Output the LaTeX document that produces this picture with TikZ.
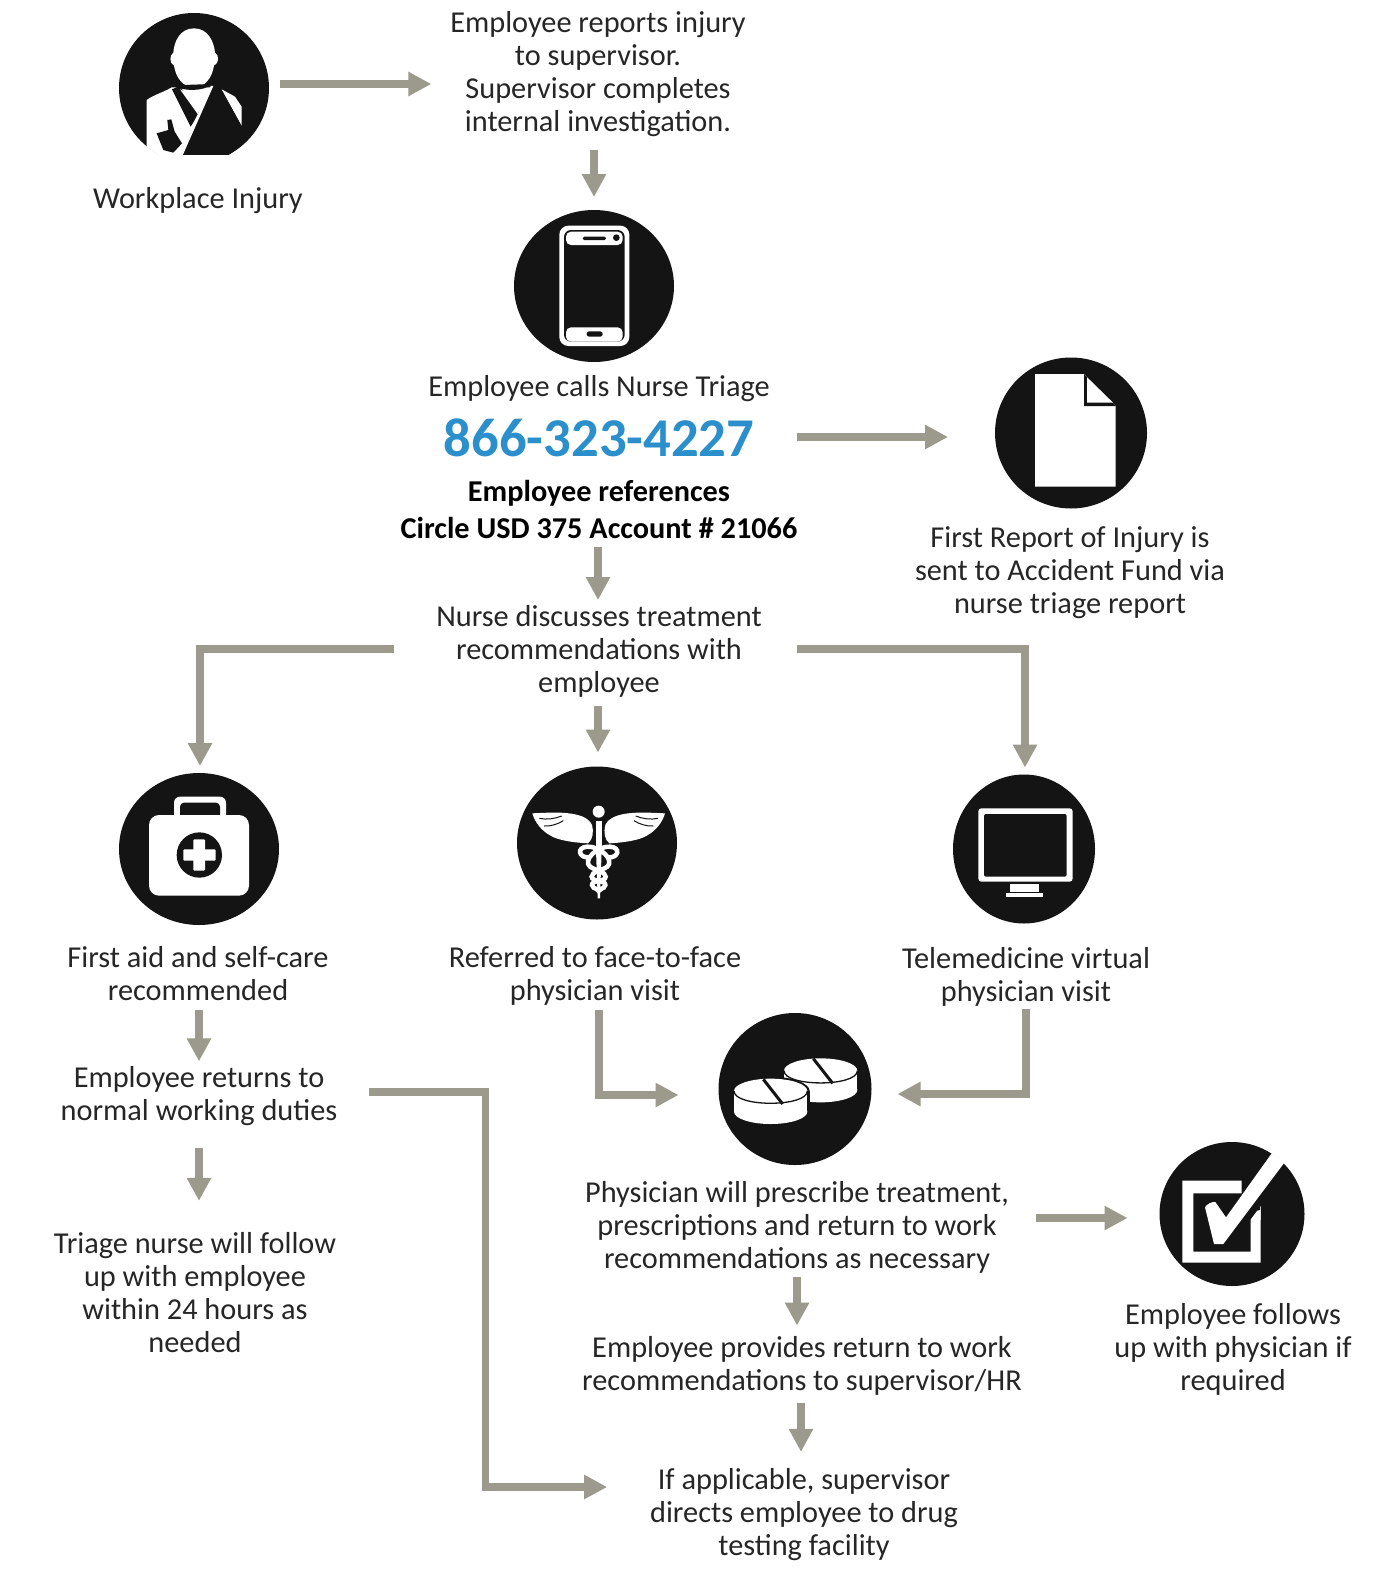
\documentclass[tikz,border=0pt]{standalone}
\usepackage{fontspec}
\setmainfont{Carlito}
\usetikzlibrary{arrows.meta,shapes.geometric,calc}
\newlength\pxu \setlength\pxu{.75pt}
\definecolor{arrowgrey}{HTML}{9B9A8C}
\definecolor{phoneblue}{HTML}{2B8FCB}
\definecolor{inkblack}{HTML}{141414}
\definecolor{textblack}{HTML}{262626}
\tikzset{
  disc/.style={ellipse,fill=inkblack,draw=none,inner sep=0pt,outer sep=0pt},
  label/.style={inner sep=0pt,outer sep=0pt,align=center,text=textblack,font=\fontsize{22.75}{24.75}\selectfont},
  boldlabel/.style={label,text=black,font=\fontsize{22.7}{27.75}\selectfont\bfseries},
  arr/.style={draw=arrowgrey,line width=5.6pt,-{Triangle[length=17.25pt,width=17.25pt]}},
  wt/.style={fill=white,draw=none},
  bk/.style={fill=inkblack,draw=none},
  zoomed/.style={shift={#1},scale=1/3},
}
\begin{document}
\begin{tikzpicture}[x=.75pt,y=-.75pt]
\useasboundingbox (0,0) rectangle (1382,1570);
\fill[white] (0,0) rectangle (1382,1570);

% discs
\node[disc,minimum width=150\pxu,minimum height=150\pxu] (injury) at (194,88) {};
\node[disc,minimum width=160\pxu,minimum height=152\pxu] (phone) at (594,286) {};
\node[disc,minimum width=152\pxu,minimum height=151\pxu] (doc) at (1071,433) {};
\node[disc,minimum width=160\pxu,minimum height=152\pxu] (aid) at (199,849) {};
\node[disc,minimum width=160\pxu,minimum height=153\pxu] (cad) at (597,843) {};
\node[disc,minimum width=142\pxu,minimum height=149\pxu] (mon) at (1024,849) {};
\node[disc,minimum width=153\pxu,minimum height=152\pxu] (pills) at (795,1089) {};
\node[disc,minimum width=145\pxu,minimum height=144\pxu] (check) at (1232,1214) {};

% injured person icon
\begin{scope}[zoomed={(100,0)}]
  \begin{scope}
    \clip (282,264) circle (226);
    \path[wt] (140,470) -- (140,300) .. controls (160,285) and (195,275) .. (215,262) -- (350,262) -- (300,470) -- cycle;
    \path[wt] (365,268) -- (405,290) -- (425,320) -- (425,378) -- cycle;
  \end{scope}
  \path[wt] (60,466) rectangle (520,510);
  \path[wt] (282,85) .. controls (240,85) and (222,125) .. (220,158) .. controls (208,165) and (208,190) .. (222,197) .. controls (228,235) and (250,262) .. (282,262) .. controls (314,262) and (336,235) .. (342,197) .. controls (358,190) and (358,165) .. (345,158) .. controls (342,125) and (324,85) .. (282,85) -- cycle;
  \path[bk] (222,256) .. controls (245,275) and (315,275) .. (335,252) -- (332,262) -- (240,465) -- (385,465) .. controls (420,445) and (470,400) .. (480,340) -- (425,378) -- (363,268) -- (335,252) -- cycle;
  \path[bk] (216,268) -- (238,258) -- (300,335) -- (272,380) -- cycle;
  \path[wt] (240,268) .. controls (265,282) and (305,282) .. (328,264) -- (293,342) -- cycle;
  \path[wt] (332,258) -- (340,258) -- (248,466) -- (236,466) -- cycle;
  \path[bk] (170,400) -- (205,390) -- (202,360) -- (214,358) -- (224,395) -- (246,430) -- (220,458) -- (190,450) -- cycle;
\end{scope}

% phone icon
\begin{scope}[zoomed={(500,200)}]
  \path[wt,rounded corners=9\pxu] (178,77) rectangle (388,438);
  \path[bk,rounded corners=7\pxu] (192,90) rectangle (374,425);
  \path[wt,rounded corners=5\pxu] (198,95) rectangle (368,135);
  \path[wt,rounded corners=5\pxu] (198,382) rectangle (368,425);
  \path[bk,rounded corners=1.5\pxu] (248,110) rectangle (318,120);
  \path[bk] (349,113) circle (10);
  \path[bk,rounded corners=2.5\pxu] (260,394) rectangle (308,410);
\end{scope}

% document icon
\begin{scope}[zoomed={(985,350)}]
  \path[wt] (150,72) -- (297,72) -- (392,168) -- (392,410) -- (150,410) -- cycle;
  \path[bk] (297,72) -- (392,168) -- (297,168) -- cycle;
  \path[wt] (306,82) -- (384,158) -- (306,158) -- cycle;
\end{scope}

% first aid icon
\begin{scope}[zoomed={(100,760)}]
  \path[wt,rounded corners=6\pxu] (222,110) rectangle (378,190);
  \path[bk,rounded corners=4\pxu] (240,128) rectangle (360,180);
  \path[wt,rounded corners=10\pxu] (147,165) rectangle (447,407);
  \path[bk] (298,285) circle (68);
  \path[wt,rounded corners=1\pxu] (280,238) rectangle (315,332);
  \path[wt,rounded corners=1\pxu] (250,268) rectangle (347,302);
\end{scope}

% caduceus icon
\begin{scope}[zoomed={(500,750)}]
  \path[wt] (97,190) .. controls (150,188) and (255,178) .. (276,225) .. controls (282,245) and (278,270) .. (264,280) .. controls (225,278) and (175,272) .. (150,256) .. controls (125,242) and (105,218) .. (97,190) -- cycle;
  \path[wt] (495,190) .. controls (442,188) and (337,178) .. (316,225) .. controls (310,245) and (314,270) .. (328,280) .. controls (367,278) and (417,272) .. (442,256) .. controls (467,242) and (487,218) .. (495,190) -- cycle;
  \draw[inkblack,line width=1\pxu] (118,205) .. controls (140,210) and (165,206) .. (185,198);
  \draw[inkblack,line width=1\pxu] (132,228) .. controls (150,230) and (175,222) .. (190,212);
  \draw[inkblack,line width=1\pxu] (474,205) .. controls (452,210) and (427,206) .. (407,198);
  \draw[inkblack,line width=1\pxu] (460,228) .. controls (442,230) and (417,222) .. (402,212);
  \path[wt] (296,185) circle (18);
  \path[wt] (287,212) rectangle (306,300);
  \path[wt] (288,300) -- (305,300) -- (300,445) -- (293,445) -- cycle;
  \draw[white,line width=4.5\pxu] (268,322) .. controls (236,325) and (228,292) .. (262,290) .. controls (300,288) and (345,330) .. (322,350) .. controls (305,362) and (275,365) .. (275,380) .. controls (275,396) and (318,390) .. (316,405) .. controls (314,420) and (290,415) .. (288,425);
  \draw[white,line width=4.5\pxu] (324,322) .. controls (356,325) and (364,292) .. (330,290) .. controls (292,288) and (247,330) .. (270,350) .. controls (287,362) and (317,365) .. (317,380) .. controls (317,396) and (274,390) .. (276,405) .. controls (278,420) and (302,415) .. (304,425);
\end{scope}

% monitor icon
\begin{scope}[zoomed={(930,760)}]
  \path[wt,rounded corners=3\pxu] (145,145) rectangle (428,365);
  \path[bk,rounded corners=2\pxu] (162,162) rectangle (410,350);
  \path[wt] (240,373) rectangle (328,397);
  \path[wt] (228,400) rectangle (340,412);
\end{scope}

% tablets icon
\begin{scope}[zoomed={(700,1000)}]
  \path[wt] (362,270) ellipse (110 and 37);
  \path[wt] (252,212) rectangle (472,270);
  \path[wt] (362,212) ellipse (110 and 37);
  \draw[inkblack,line width=1.3\pxu] (252,212) .. controls (252,261) and (472,261) .. (472,212);
  \draw[inkblack,line width=3\pxu] (340,176) -- (398,250);
  \path[bk] (212,335) ellipse (117 and 43);
  \path[bk] (95,273) rectangle (329,335);
  \path[bk] (212,273) ellipse (117 and 43);
  \path[wt] (212,335) ellipse (110 and 37);
  \path[wt] (102,273) rectangle (322,335);
  \path[wt] (212,273) ellipse (110 and 37);
  \draw[inkblack,line width=1.3\pxu] (102,273) .. controls (102,322) and (322,322) .. (322,273);
  \draw[inkblack,line width=3\pxu] (190,238) -- (248,312);
\end{scope}

% check icon
\begin{scope}[zoomed={(1140,1130)}]
  \path[wt,even odd rule] (127,152) rectangle (362,398) (160,190) rectangle (332,365);
  \begin{scope}
    \clip (277,252) ellipse (218 and 217);
    \path[bk] (305,145) -- (420,145) -- (420,225) -- (365,225) -- (332,268) -- (305,268) -- cycle;
    \path[bk] (332,190) -- (332,270) -- (300,270) -- cycle;
    \path[wt] (362,228) -- (362,270) -- (332,270) -- cycle;
    \path[bk] (310,135) -- (360,135) -- (360,240) -- (310,250) -- cycle;
    \path[wt] (195,232) .. controls (200,222) and (215,215) .. (226,216) -- (258,262) -- (405,56) -- (442,86) -- (250,342) -- (222,342) -- cycle;
  \end{scope}
\end{scope}

% texts
\node[label] (workplace) at (198,201) {Workplace Injury};
\node[label] (reports) at (598,74) {Employee reports injury\\to supervisor.\\Supervisor completes\\internal investigation.};
\node[label] (calls) at (599,389) {Employee calls Nurse Triage};
\node[inner sep=0pt,outer sep=0pt,text=phoneblue,font=\fontsize{41}{45}\selectfont\bfseries] (number) at (599,438) {866-323-4227};
\node[boldlabel] (refs) at (599,509) {Employee references\\Circle USD 375 Account \# 21066};
\node[label] (discuss) at (599,651) {Nurse discusses treatment\\recommendations with\\employee};
\node[label] (first) at (1070,573) {First Report of Injury is\\sent to Accident Fund via\\nurse triage report};
\node[label] (aidtext) at (198,974) {First aid and self-care\\recommended};
\node[label] (face) at (595,976) {Referred to face-to-face\\physician visit};
\node[label] (tele) at (1026,977) {Telemedicine virtual\\physician visit};
\node[label] (returns) at (199,1096) {Employee returns to\\normal working duties};
\node[label] (triage) at (195,1293) {Triage nurse will follow\\up with employee\\within 24 hours as\\needed};
\node[label] (prescribe) at (797,1227) {Physician will prescribe treatment,\\prescriptions and return to work\\recommendations as necessary};
\node[label] (follows) at (1233,1349) {Employee follows\\up with physician if\\required};
\node[label] (provides) at (802,1366) {Employee provides return to work\\recommendations to supervisor/HR};
\node[label] (drug) at (804,1515) {If applicable, supervisor\\directs employee to drug\\testing facility};

% connectors
\draw[arr] ($(injury.center)+(86,-4)$) -- ($(reports.west)+(-19,10)$);
\draw[arr] ($(reports.south)+(-4,13)$) -- ($(phone.north)+(0,-13)$);
\draw[arr] ($(number.east)+(43,-1)$) -- ($(doc.west)+(-47,4)$);
\draw[arr] ($(refs.south)+(-1,9)$) -- ($(discuss.north)+(-1,-5)$);
\draw[arr] ($(discuss.west)+(-42,-2)$) -| ($(aid.north)+(1,-7)$);
\draw[arr] ($(discuss.south)+(-1,9)$) -- ($(cad.north)+(1,-14)$);
\draw[arr] ($(discuss.east)+(35,-2)$) -| ($(mon.north)+(1,-7)$);
\draw[arr] ($(aidtext.south)+(1,9)$) -- ($(returns.north)+(0,-5)$);
\draw[arr] ($(returns.south)+(0,22)$) -- ($(triage.north)+(4,-32)$);
\draw[arr] ($(returns.east)+(32,-4)$) -- ++(116,0) |- ($(drug.west)+(-43,-28)$);
\draw[arr] ($(face.south)+(4,5)$) |- ($(pills.west)+(-40,6)$);
\draw[arr] ($(tele.south)+(0,3)$) |- ($(pills.east)+(26,5)$);
\draw[arr] ($(prescribe.east)+(27,-9)$) -- ($(check.west)+(-32,4)$);
\draw[arr] ($(prescribe.south)+(0,4)$) -- ($(provides.north)+(-5,-11)$);
\draw[arr] ($(provides.south)+(-1,8)$) -- ($(drug.north)+(-3,-17)$);
\end{tikzpicture}
\end{document}
